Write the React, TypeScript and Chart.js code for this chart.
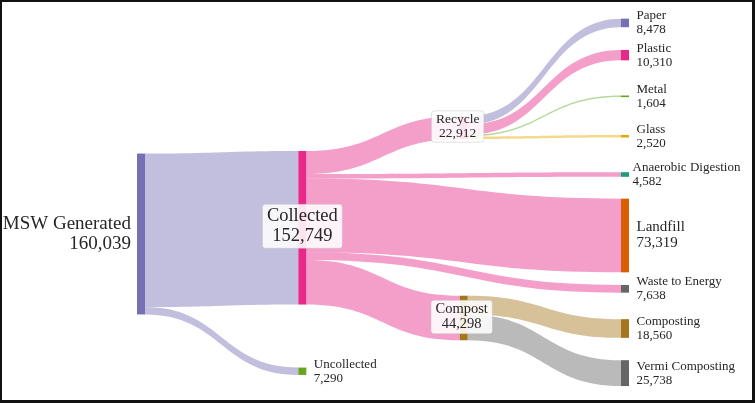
import React, { useEffect, useRef } from 'react';
import { Chart, registerables } from 'chart.js';

Chart.register(...registerables);

// ---------- data ----------
const nodeLabels = [
  'MSW Generated', 'Collected', 'Uncollected', 'Recycle', 'Compost',
  'Paper', 'Plastic', 'Metal', 'Glass', 'Anaerobic Digestion',
  'Landfill', 'Waste to Energy', 'Composting', 'Vermi Composting',
];
const linkSources = [0, 0, 1, 1, 1, 1, 1, 3, 3, 3, 3, 4, 4];
const linkTargets = [1, 2, 3, 9, 10, 11, 4, 5, 6, 7, 8, 12, 13];
const linkValues = [152749, 7290, 22912, 4582, 73319, 7638, 44298, 8478, 10310, 1604, 2520, 18560, 25738];

// ---------- layout (plotly-like arrangement: column index + centre as fraction of height) ----------
const nodeColumn = [0, 1, 1, 2, 2, 3, 3, 3, 3, 3, 3, 3, 3, 3];
const nodeCenterFrac = [0.5818, 0.5656, 0.9383, 0.3052, 0.8, 0.0336, 0.1173, 0.2242, 0.3279, 0.4273, 0.5857, 0.7242, 0.8273, 0.9432];
const Y_MAX = 383000;
const NODE_W = 8;

// ---------- styles ----------
const nodeColors = ['#7570b3', '#e7298a', '#66a61e', '#e7298a', '#a6761d', '#7570b3', '#e7298a', '#66a61e', '#e6ab02', '#1b9e77', '#d95f02', '#666666', '#a6761d', '#666666'];
const linkColors = [
  'rgba(117,112,179,0.45)', 'rgba(117,112,179,0.45)',
  'rgba(231,41,138,0.45)', 'rgba(231,41,138,0.45)', 'rgba(231,41,138,0.45)', 'rgba(231,41,138,0.45)', 'rgba(231,41,138,0.45)',
  'rgba(117,112,179,0.45)', 'rgba(231,41,138,0.45)', 'rgba(102,166,30,0.45)', 'rgba(230,171,2,0.45)',
  'rgba(166,118,29,0.45)', 'rgba(102,102,102,0.45)',
];
type LS = { pos: 'left' | 'right' | 'center'; size: number; lh: number; dx?: number; dy?: number; box?: boolean };
const defaultLabel: LS = { pos: 'right', size: 13, lh: 14 };
const labelStyles: Record<string, LS> = {
  'MSW Generated': { pos: 'left', size: 19, lh: 20 },
  'Collected': { pos: 'center', size: 18.5, lh: 20, dy: -1.5, box: true },
  'Recycle': { pos: 'center', size: 13.5, lh: 13.7, dx: -6, dy: -1, box: true },
  'Compost': { pos: 'center', size: 14.5, lh: 14.7, dx: -2, dy: -1, box: true },
  'Landfill': { pos: 'right', size: 15, lh: 16, dy: -0.5 },
  'Anaerobic Digestion': { pos: 'right', size: 13, lh: 14, dx: -4 },
};
const FONT = '"Liberation Serif", "Times New Roman", serif';
const TEXT_COLOR = '#262626';

const sankeyPlugin = {
  id: 'sankeyDraw',
  afterDatasetsDraw(chart: any) {
    const ctx: CanvasRenderingContext2D = chart.ctx;
    const xs = chart.scales.x;
    const ys = chart.scales.y;
    const n = nodeLabels.length;
    const inSum = new Array(n).fill(0);
    const outSum = new Array(n).fill(0);
    linkValues.forEach((v, i) => {
      outSum[linkSources[i]] += v;
      inSum[linkTargets[i]] += v;
    });
    const nodeVal = nodeLabels.map((_, i) => Math.max(inSum[i], outSum[i]));
    const hPx = (v: number) => Math.abs(ys.getPixelForValue(v) - ys.getPixelForValue(0));
    const nodes = nodeLabels.map((_, i) => {
      const x0 = xs.getPixelForValue(nodeColumn[i]);
      const cy = ys.getPixelForValue(nodeCenterFrac[i] * Y_MAX);
      const h = hPx(nodeVal[i]);
      return { x0, x1: x0 + NODE_W, y0: cy - h / 2, y1: cy + h / 2, cy };
    });
    const outOff = new Array(n).fill(0);
    const inOff = new Array(n).fill(0);

    // links
    linkValues.forEach((v, i) => {
      const s = nodes[linkSources[i]];
      const t = nodes[linkTargets[i]];
      const h = hPx(v);
      const sy0 = s.y0 + outOff[linkSources[i]];
      const ty0 = t.y0 + inOff[linkTargets[i]];
      outOff[linkSources[i]] += h;
      inOff[linkTargets[i]] += h;
      const x0 = s.x1, x1 = t.x0, xm = (x0 + x1) / 2;
      ctx.beginPath();
      ctx.moveTo(x0, sy0);
      ctx.bezierCurveTo(xm, sy0, xm, ty0, x1, ty0);
      ctx.lineTo(x1, ty0 + h);
      ctx.bezierCurveTo(xm, ty0 + h, xm, sy0 + h, x0, sy0 + h);
      ctx.closePath();
      ctx.fillStyle = linkColors[i];
      ctx.fill();
    });

    // nodes
    nodes.forEach((nd, i) => {
      ctx.fillStyle = nodeColors[i];
      ctx.fillRect(nd.x0, nd.y0, NODE_W, Math.max(nd.y1 - nd.y0, 1));
    });

    // labels
    nodes.forEach((nd, i) => {
      const st = labelStyles[nodeLabels[i]] || defaultLabel;
      const lines = [nodeLabels[i], nodeVal[i].toLocaleString('en-US')];
      ctx.font = `${st.size}px ${FONT}`;
      ctx.textBaseline = 'middle';
      const cy = nd.cy + (st.dy || 0);
      let x: number;
      if (st.pos === 'left') {
        ctx.textAlign = 'right';
        x = nd.x0 - 6 + (st.dx || 0);
      } else if (st.pos === 'center') {
        ctx.textAlign = 'center';
        x = (nd.x0 + nd.x1) / 2 + (st.dx || 0);
      } else {
        ctx.textAlign = 'left';
        x = nd.x1 + 7.5 + (st.dx || 0);
      }
      if (st.box) {
        const w = Math.max(...lines.map((l) => ctx.measureText(l).width)) + 9;
        const bh = st.lh * 2 + 4;
        ctx.beginPath();
        (ctx as any).roundRect(x - w / 2, cy - bh / 2, w, bh, 3);
        ctx.fillStyle = 'rgba(255,255,255,0.88)';
        ctx.fill();
        ctx.strokeStyle = 'rgba(190,190,190,0.45)';
        ctx.lineWidth = 1;
        ctx.stroke();
      }
      ctx.fillStyle = TEXT_COLOR;
      ctx.fillText(lines[0], x, cy - st.lh / 2);
      ctx.fillText(lines[1], x, cy + st.lh / 2);
    });
  },
  afterDraw(chart: any) {
    const ctx: CanvasRenderingContext2D = chart.ctx;
    const W = chart.width, H = chart.height;
    ctx.fillStyle = '#111111';
    ctx.fillRect(0, 0, W, 2);
    ctx.fillRect(0, 0, 2, H);
    ctx.fillRect(W - 3, 0, 3, H);
    ctx.fillRect(0, H - 3, W, 3);
  },
};

export default function App() {
  const ref = useRef<HTMLCanvasElement>(null);
  useEffect(() => {
    if (!ref.current) return;
    const chart = new Chart(ref.current, {
      type: 'scatter',
      data: { datasets: [{ data: [] }] },
      options: {
        animation: false,
        responsive: false,
        events: [],
        layout: { padding: { left: 137, right: 134, top: 10, bottom: 8 } },
        plugins: { legend: { display: false }, tooltip: { enabled: false } },
        scales: {
          x: { type: 'linear', min: 0, max: 3, display: false },
          y: { type: 'linear', min: 0, max: Y_MAX, reverse: true, display: false },
        },
      },
      plugins: [sankeyPlugin],
    });
    return () => chart.destroy();
  }, []);
  return (
    <div style={{ position: 'fixed', left: 0, top: 0, width: 755, height: 403, background: '#fff' }}>
      <canvas ref={ref} width={755} height={403} />
    </div>
  );
}
